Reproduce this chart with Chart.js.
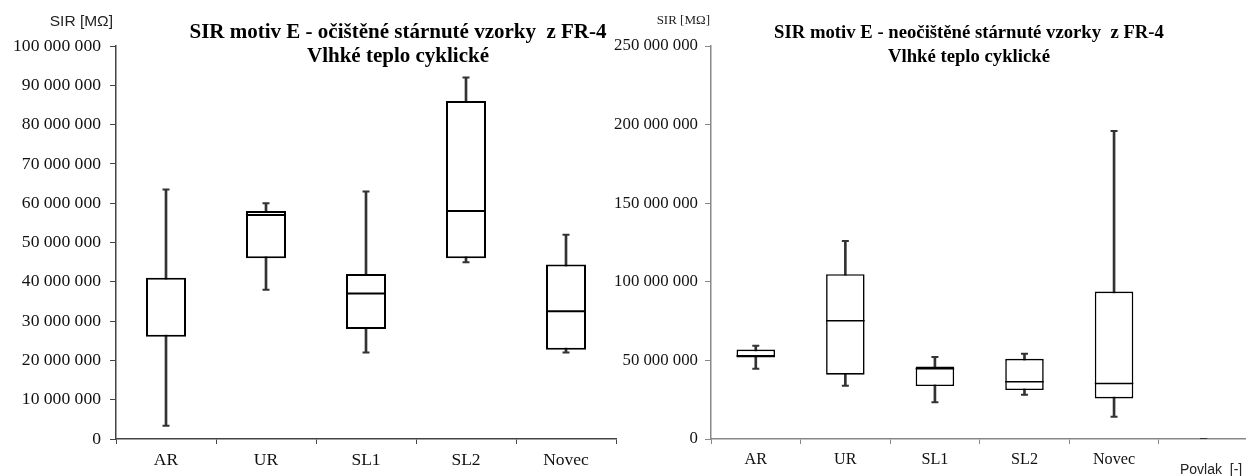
<!DOCTYPE html>
<html>
<head>
<meta charset="utf-8">
<script src="https://cdn.jsdelivr.net/npm/chart.js@4.4.0/dist/chart.umd.min.js"></script>
<style>
  html, body { margin: 0; padding: 0; background: #fff; }
  body { width: 1246px; height: 476px; position: relative; overflow: hidden; }
  .pane { position: absolute; top: 0; height: 476px; }
  #leftPane { left: 0; width: 628px; }
  #rightPane { left: 600px; width: 660px; }
</style>
</head>
<body>
<div class="pane" id="leftPane"><canvas id="chartLeft"></canvas></div>
<div class="pane" id="rightPane"><canvas id="chartRight"></canvas></div>
<script>
// cleaned samples (left chart); AR median not visible
const catsLeft = ['AR', 'UR', 'SL1', 'SL2', 'Novec'];
const minLeft    = [3400000, 38000000, 22000000, 45000000, 22000000];
const q1Left     = [26000000, 46000000, 28000000, 46000000, 22700000];
const medLeft    = [null, 57000000, 37000000, 58000000, 32500000];
const q3Left     = [41000000, 58000000, 42000000, 86000000, 44400000];
const maxLeft    = [63500000, 60000000, 63000000, 92000000, 52000000];
const yTicksLeft = [0, 100000000, 10000000]; // min, max, step

// uncleaned samples (right chart), last category is empty
const catsRight = ['AR', 'UR', 'SL1', 'SL2', 'Novec', ''];
const minRight  = [44700000, 33900000, 23300000, 28100000, 14200000, 0];
const q1Right   = [51800000, 40900000, 33700000, 31100000, 25800000, null];
const medRight  = [52900000, 75200000, 44700000, 36400000, 35300000, null];
const q3Right   = [56900000, 104800000, 46100000, 51000000, 93800000, null];
const maxRight  = [59300000, 126000000, 52100000, 54200000, 195900000, 0];
const yTicksRight = [0, 250000000, 50000000];

function fmt(v) {
  return String(v).replace(/\B(?=(\d{3})+(?!\d))/g, ' ');
}

const textPlugin = {
  id: 'texts',
  afterDraw(chart, args, opts) {
    const ctx = chart.ctx;
    ctx.save();
    (opts.items || []).forEach(t => {
      ctx.font = t.font;
      ctx.fillStyle = t.color || '#000';
      ctx.textAlign = t.align || 'center';
      ctx.textBaseline = 'middle';
      ctx.fillText(t.text, t.x, t.y);
    });
    ctx.restore();
  }
};

function buildChart(id, cfg) {
  const n = cfg.cats.length;
  const halfBox = c => {
    const area = c.chart.chartArea;
    return area ? (area.width / n) * cfg.boxPct / 2 : 10;
  };
  const whiskers = cfg.min.map((v, i) => (cfg.q1[i] === null ? null : [v, cfg.max[i]]));
  const boxes = cfg.q1.map((v, i) => (v === null ? null : [v, cfg.q3[i]]));

  return new Chart(document.getElementById(id), {
    type: 'bar',
    data: {
      labels: cfg.cats,
      datasets: [
        {
          type: 'line', data: cfg.med, showLine: false, order: 0,
          pointStyle: 'line', pointRadius: halfBox, pointHoverRadius: halfBox,
          pointBorderColor: '#000', pointBorderWidth: cfg.lineW
        },
        {
          type: 'line', data: cfg.max, showLine: false, order: 0,
          pointStyle: 'line', pointRadius: 3.5, pointHoverRadius: 3.5,
          pointBorderColor: '#333', pointBorderWidth: 2
        },
        {
          type: 'line', data: cfg.min, showLine: false, order: 0,
          pointStyle: 'line', pointRadius: 3.5, pointHoverRadius: 3.5,
          pointBorderColor: '#333', pointBorderWidth: 2
        },
        {
          data: boxes, order: 1, grouped: false,
          backgroundColor: '#fff', borderColor: '#000', borderWidth: cfg.lineW,
          borderSkipped: false, barPercentage: cfg.boxPct, categoryPercentage: 1
        },
        {
          data: whiskers, order: 2, grouped: false,
          backgroundColor: '#333', borderWidth: 0, barThickness: 2
        }
      ]
    },
    options: {
      responsive: true,
      maintainAspectRatio: false,
      animation: false,
      events: [],
      layout: { padding: { left: 0, top: 46, right: 0, bottom: 0 } },
      plugins: {
        legend: { display: false },
        tooltip: { enabled: false },
        texts: { items: cfg.texts }
      },
      scales: {
        x: {
          offset: true,
          grid: { offset: true, drawOnChartArea: false, tickLength: 5, color: cfg.axisColor },
          border: { color: cfg.axisColor, width: 1.5 },
          ticks: { color: '#111', font: { family: 'Liberation Serif', size: cfg.catSize }, padding: 6 },
          afterFit: s => { s.height = 37; }
        },
        y: {
          min: cfg.yTicks[0], max: cfg.yTicks[1],
          grid: { drawOnChartArea: false, tickLength: 6, color: cfg.axisColor },
          border: { color: cfg.axisColor, width: 1.5 },
          ticks: {
            stepSize: cfg.yTicks[2], color: '#111',
            font: { family: 'Liberation Serif', size: cfg.tickSize },
            padding: cfg.tickPad, callback: v => fmt(v)
          },
          afterFit: s => { s.width = cfg.axisLeft; }
        }
      }
    },
    plugins: [textPlugin]
  });
}

buildChart('chartLeft', {
  cats: catsLeft, min: minLeft, q1: q1Left, med: medLeft, q3: q3Left, max: maxLeft,
  yTicks: yTicksLeft, boxPct: 0.4, axisLeft: 116, lineW: 2,
  axisColor: '#444', catSize: 17.5, tickSize: 17.6, tickPad: 9,
  texts: [
    { text: 'SIR [MΩ]', x: 113, y: 22, align: 'right', font: '15.5px "Liberation Sans"', color: '#222' },
    { text: 'SIR motiv E - očištěné stárnuté vzorky  z FR-4', x: 398, y: 33, font: 'bold 21px "Liberation Serif"' },
    { text: 'Vlhké teplo cyklické', x: 398, y: 57, font: 'bold 21px "Liberation Serif"' }
  ]
});

buildChart('chartRight', {
  cats: catsRight, min: minRight, q1: q1Right, med: medRight, q3: q3Right, max: maxRight,
  yTicks: yTicksRight, boxPct: 0.43, axisLeft: 111, lineW: 1.6,
  axisColor: '#888', catSize: 16.2, tickSize: 16.8, tickPad: 7,
  texts: [
    { text: 'SIR [MΩ]', x: 110, y: 21, align: 'right', font: '13px "Liberation Serif"', color: '#222' },
    { text: 'SIR motiv E - neočištěné stárnuté vzorky  z FR-4', x: 369, y: 33, font: 'bold 18.7px "Liberation Serif"' },
    { text: 'Vlhké teplo cyklické', x: 369, y: 57, font: 'bold 18.7px "Liberation Serif"' },
    { text: 'Povlak  [-]', x: 580, y: 470, align: 'left', font: '14px "Liberation Sans"', color: '#222' }
  ]
});
</script>
</body>
</html>
